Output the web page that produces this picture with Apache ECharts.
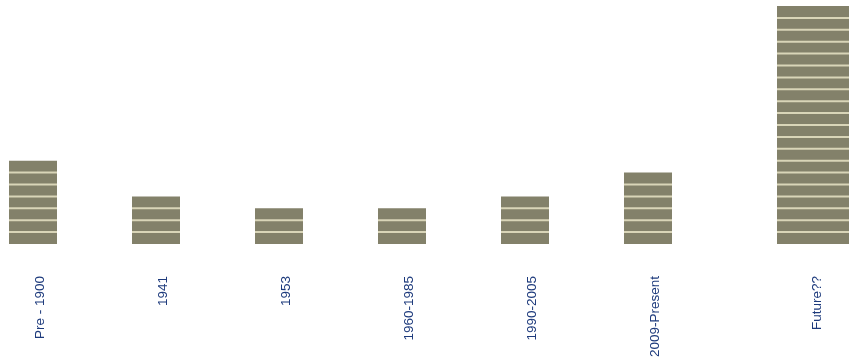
<!DOCTYPE html>
<html>
<head>
<meta charset="utf-8">
<script src="https://cdn.jsdelivr.net/npm/echarts@6/dist/echarts.min.js"></script>
<style>
  html, body { margin: 0; padding: 0; background: #ffffff; }
  #chart { width: 849px; height: 364px; }
</style>
</head>
<body>
<div id="chart"></div>
<script>
// Periods and the number of stacked units shown for each
const categories = ['Pre - 1900', '1941', '1953', '1960-1985', '1990-2005', '2009-Present', 'Future??'];
const units = [7, 4, 3, 3, 4, 6, 20];

const BAR_COLOR = '#83816a';
const STRIPE_COLOR = '#d9d5b8';
const LABEL_COLOR = '#1d3a7c';

// Draws one bar as a stack of unit blocks separated by light stripes
function stackRenderer(barWidth, shiftX) {
  return function (params, api) {
    const i = api.value(0);
    const v = api.value(1);
    const base = api.coord([i, 0]);
    const top = api.coord([i, v]);
    const x = base[0] + shiftX - barWidth / 2;
    const children = [{
      type: 'rect',
      shape: { x: x, y: top[1], width: barWidth, height: base[1] - top[1] },
      style: { fill: BAR_COLOR }
    }];
    for (let k = 1; k < v; k++) {
      const y = api.coord([i, k])[1];
      children.push({
        type: 'rect',
        shape: { x: x, y: y - 1, width: barWidth, height: 2 },
        style: { fill: STRIPE_COLOR }
      });
    }
    return { type: 'group', children: children };
  };
}

const mainCats = categories.slice(0, 6);
const mainVals = units.slice(0, 6);
const lastCats = categories.slice(6);
const lastVals = units.slice(6);

const axisLabel = {
  rotate: 90,
  margin: 32,
  color: LABEL_COLOR,
  fontSize: 13.5,
  fontFamily: 'Liberation Sans, Arial, sans-serif',
  interval: 0
};

const chart = echarts.init(document.getElementById('chart'), null, { renderer: 'canvas' });
chart.setOption({
  backgroundColor: '#ffffff',
  animation: false,
  grid: [
    { left: 40, width: 615, top: 6, bottom: 120, outerBoundsMode: 'none', containLabel: false },
    { left: 777, width: 80, top: 6, bottom: 120, outerBoundsMode: 'none', containLabel: false }
  ],
  xAxis: [
    {
      gridIndex: 0, type: 'category', data: mainCats, boundaryGap: false,
      axisLine: { show: false }, axisTick: { show: false }, splitLine: { show: false },
      axisLabel: axisLabel
    },
    {
      gridIndex: 1, type: 'category', data: lastCats, boundaryGap: true,
      axisLine: { show: false }, axisTick: { show: false }, splitLine: { show: false },
      axisLabel: axisLabel
    }
  ],
  yAxis: [
    { gridIndex: 0, type: 'value', min: 0, max: 20, show: false, splitLine: { show: false } },
    { gridIndex: 1, type: 'value', min: 0, max: 20, show: false, splitLine: { show: false } }
  ],
  series: [
    {
      type: 'custom', xAxisIndex: 0, yAxisIndex: 0,
      renderItem: stackRenderer(48, -7),
      data: mainVals.map((v, i) => [i, v]),
      clip: false
    },
    {
      type: 'custom', xAxisIndex: 1, yAxisIndex: 1,
      renderItem: stackRenderer(80, 0),
      data: lastVals.map((v, i) => [i, v]),
      clip: false
    }
  ]
});
</script>
</body>
</html>
